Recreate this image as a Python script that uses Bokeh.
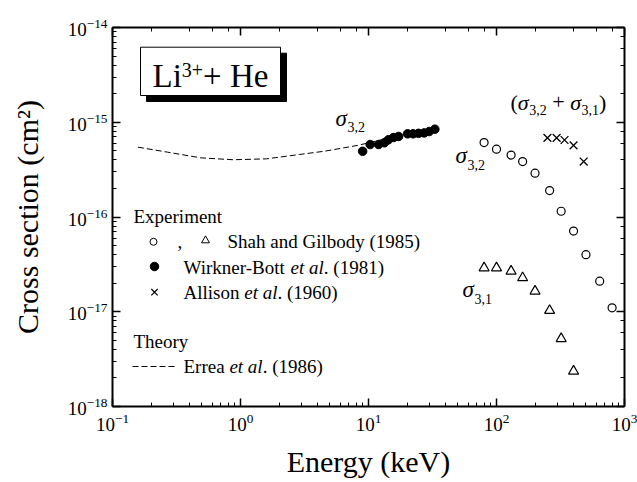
from bokeh.plotting import figure
from bokeh.models import LogAxis, Range1d, LinearScale, CustomJSTickFormatter
from bokeh.core.properties import value
from bokeh.embed import file_html
from bokeh.resources import INLINE

# ---------------- data ----------------
shah_E32 = [80, 100, 130, 160, 200, 260, 320, 400, 500, 640, 800]
shah_s32 = [6.1e-16, 5.2e-16, 4.5e-16, 3.85e-16, 2.9e-16, 1.9e-16, 1.15e-16,
            7.1e-17, 4.0e-17, 2.1e-17, 1.1e-17]
shah_E31 = [80, 100, 130, 160, 200, 260, 320, 400]
shah_s31 = [2.9e-17, 2.9e-17, 2.68e-17, 2.28e-17, 1.65e-17, 1.03e-17, 5.2e-18, 2.36e-18]
wb_E = [9.0, 10.3, 12.0, 13.3, 14.3, 15.7, 17.2, 20.2, 22.3, 24.6, 27.2, 29.8, 33.0]
wb_s = [4.94e-16, 5.82e-16, 5.82e-16, 6.07e-16, 6.53e-16, 6.9e-16, 7.08e-16,
        7.55e-16, 7.55e-16, 7.64e-16, 7.72e-16, 7.98e-16, 8.45e-16]
allison_E = [250, 295, 340, 400, 480]
allison_s = [6.85e-16, 6.85e-16, 6.5e-16, 5.7e-16, 3.85e-16]
errea_E = [0.158, 0.27, 0.49, 0.88, 1.6, 2.9, 4.5, 8.2, 15, 33]
errea_s = [5.46e-16, 4.83e-16, 4.21e-16, 4.02e-16, 4.11e-16, 4.57e-16, 4.94e-16,
           5.69e-16, 6.9e-16, 8.3e-16]

SERIF = "Liberation Serif"
FW, FH = 512, 379

p = figure(x_axis_type="log", y_axis_type="log",
           x_range=(0.1, 1000), y_range=(1e-18, 1e-14),
           width=637, height=482,
           min_border_left=112, min_border_right=13, min_border_top=27, min_border_bottom=76,
           output_backend="svg", toolbar_location=None,
           x_axis_label="Energy (keV)", y_axis_label="Cross section (cm²)")
p.grid.visible = False
p.outline_line_color = None
p.background_fill_color = "white"
p.border_fill_color = "white"

def style_axis(ax):
    ax.axis_line_width = 2
    ax.axis_line_color = "black"
    ax.major_tick_in = 8
    ax.major_tick_out = 0
    ax.minor_tick_in = 4
    ax.minor_tick_out = 0
    ax.major_tick_line_width = 1.5
    ax.minor_tick_line_width = 1
    ax.major_tick_line_color = "black"
    ax.minor_tick_line_color = "black"
    ax.major_label_text_font = SERIF
    ax.major_label_text_font_size = "19px"
    ax.major_label_text_color = "black"
    ax.axis_label_text_font = SERIF
    ax.axis_label_text_font_size = "30px"
    ax.axis_label_text_font_style = "normal"
    ax.axis_label_text_color = "black"

for ax in p.xaxis + p.yaxis:
    style_axis(ax)
p.xaxis.major_label_standoff = 7
p.xaxis.axis_label_standoff = 11
p.yaxis.major_label_standoff = 5
p.yaxis.axis_label_standoff = 21

blank = CustomJSTickFormatter(code="return ''")
top = LogAxis(formatter=blank)
right = LogAxis(formatter=blank)
for ax in (top, right):
    style_axis(ax)
p.add_layout(top, "above")
p.add_layout(right, "right")

# pixel coordinate system for annotations (frame pixels, y downward)
p.extra_x_ranges = {"px": Range1d(0, FW)}
p.extra_y_ranges = {"px": Range1d(FH, 0)}
p.extra_x_scales = {"px": LinearScale()}
p.extra_y_scales = {"px": LinearScale()}
PX = dict(x_range_name="px", y_range_name="px")

# ---------------- data marks ----------------
p.line(errea_E, errea_s, line_color="black", line_width=1, line_dash="6 3")
p.scatter(wb_E, wb_s, marker="circle", size=8.5, fill_color="black", line_color="black")
p.scatter(shah_E32, shah_s32, marker="circle", size=8, fill_color=None,
          line_color="black", line_width=1.2)
p.scatter(shah_E31, shah_s31, marker="triangle", size=10, fill_color=None,
          line_color="black", line_width=1.2)
p.scatter(allison_E, allison_s, marker="x", size=11, line_color="black", line_width=1.3)

# ---------------- text helpers ----------------
REG = {' ': 250, '(': 333, ')': 333, '.': 250, ',': 250, '-': 333, '+': 564,
       'L': 611, 'H': 722, 'i': 278, 'e': 444, 'A': 722, 'l': 278, 's': 389,
       'o': 500, 'n': 500, 'W': 944, 'r': 333, 'k': 500, 'B': 667, 't': 278,
       'E': 611, 'a': 444}
ITA = {' ': 250, 'e': 444, 't': 278, 'a': 500, 'l': 278, 'σ': 520}

def width(text, size, italic):
    tab = ITA if italic else REG
    return sum(tab.get(c, 500) for c in text) * size / 1000.0

def runs(x0, y0, pieces):
    """Draw text pieces left to right; y0 is the baseline (frame pixels)."""
    x = x0
    for text, size, italic, dy in pieces:
        lead = len(text) - len(text.lstrip(" "))
        core = text.strip(" ")
        xs = x + width(" " * lead, size, italic)
        p.text(x=[xs], y=[y0 + dy - 0.34 * size], text=[core], text_font=value(SERIF),
               text_font_size=f"{size}px",
               text_font_style="italic" if italic else "normal",
               text_baseline="middle", text_align="left", text_color="black", **PX)
        x += width(text, size, italic)

# ---------------- title box ----------------
p.quad(left=[34], right=[174], top=[25.7], bottom=[74], fill_color="black",
       line_color="black", **PX)
p.quad(left=[28], right=[168], top=[19.7], bottom=[68], fill_color="white",
       line_color="black", line_width=1, **PX)
runs(40, 60, [("Li", 33, False, 0), ("3+", 20, False, -11), ("+ He", 33, False, 0)])

# ---------------- sigma labels ----------------
runs(223, 99, [("σ", 23, True, 0), ("3,2", 14, False, 5.5)])
runs(343, 136, [("σ", 23, True, 0), ("3,2", 14, False, 6)])
runs(350, 270, [("σ", 23, True, 0), ("3,1", 14, False, 6)])
runs(398, 82, [("(", 22, False, 0), ("σ", 22, True, 0), ("3,2", 14, False, 5),
               (" + ", 22, False, 0), ("σ", 22, True, 0), ("3,1", 14, False, 5),
               (")", 22, False, 0)])

# ---------------- legend ----------------
runs(21, 195.5, [("Experiment", 19, False, 0)])
p.scatter([41], [214.3], marker="circle", size=7, fill_color=None, line_color="black",
          line_width=1, **PX)
runs(65, 220.5, [(",", 19, False, 0)])
p.scatter([93], [213], marker="triangle", size=8, fill_color=None, line_color="black",
          line_width=1, **PX)
runs(115, 220.5, [("Shah and Gilbody (1985)", 19, False, 0)])
p.scatter([42], [239], marker="circle", size=8.5, fill_color="black", line_color="black", **PX)
runs(71, 246, [("Wirkner-Bott ", 19, False, 0), ("et al", 19, True, 0),
               (". (1981)", 19, False, 0)])
p.scatter([42], [264.7], marker="x", size=9, line_color="black", line_width=1.2, **PX)
runs(71, 271.5, [("Allison ", 19, False, 0), ("et al", 19, True, 0),
                 (". (1960)", 19, False, 0)])
runs(21, 320.5, [("Theory", 19, False, 0)])
p.line([20, 63], [339, 339], line_color="black", line_width=1, line_dash="6 3", **PX)
runs(71, 345.5, [("Errea ", 19, False, 0), ("et al", 19, True, 0),
                 (". (1986)", 19, False, 0)])

open("out.html", "w").write(file_html(p, INLINE))
